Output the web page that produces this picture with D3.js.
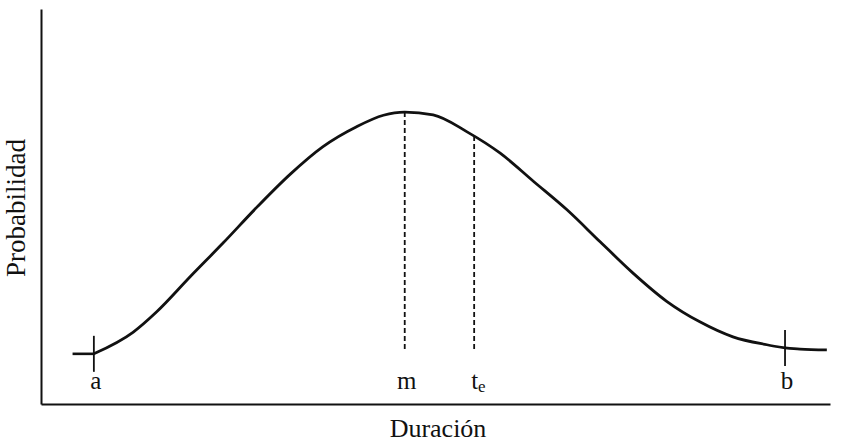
<!DOCTYPE html>
<html>
<head>
<meta charset="utf-8">
<script src="https://cdn.jsdelivr.net/npm/d3@7/dist/d3.min.js"></script>
<style>
  html, body { margin: 0; padding: 0; background: #fff; }
  svg { display: block; }
  text { font-family: "Liberation Serif", "Times New Roman", serif; fill: #111; }
</style>
</head>
<body>
<svg id="chart" width="856" height="445"></svg>
<script>
// Duración (horizontal) vs. probabilidad (vertical), in relative units 0–100
const duracion = [6.7, 11.7, 14.7, 18.9, 23.1, 27.4, 31.6, 35.7, 40.0, 43.4, 46.1,
                  49.7, 54.0, 58.2, 62.4, 66.7, 70.9, 75.0, 79.3, 83.5, 87.7, 92.0, 94.3];
const probabilidad = [12.7, 18.2, 23.4, 32.2, 40.8, 49.9, 58.2, 65.1, 70.2, 73.1, 73.9,
                      73.2, 68.9, 63.5, 56.4, 49.1, 41.0, 33.2, 26.0, 20.8, 17.0, 15.0, 14.2];

// flat tails before a and after b
const colaIzq = { x: [4.0, 6.7], y: [12.7, 12.7] };
const colaDer = { x: [94.3, 96.2, 99.6], y: [14.2, 13.9, 13.7] };

// marked durations
const puntos = ["a", "m", "te", "b"];
const valoresPunto = [6.7, 46.1, 54.9, 94.3];
const baseDiscontinua = 13.2;   // lower end of the dashed guides

const ejeX = "Duración";
const ejeY = "Probabilidad";

const svg = d3.select("#chart");
const x = d3.scaleLinear().domain([0, 100]).range([41, 830]);
const y = d3.scaleLinear().domain([0, 100]).range([404, 9]);

// axes: bare lines, no ticks
svg.append("g")
  .attr("transform", `translate(${x(0)},0)`)
  .call(d3.axisLeft(y).tickValues([]).tickSizeOuter(0))
  .call(g => g.select(".domain").attr("stroke", "#111").attr("stroke-width", 2));
svg.append("g")
  .attr("transform", `translate(0,${y(0)})`)
  .call(d3.axisBottom(x).tickValues([]).tickSizeOuter(0))
  .call(g => g.select(".domain").attr("stroke", "#111").attr("stroke-width", 2));

// main curve
const pts = duracion.map((d, i) => [d, probabilidad[i]]);
const linea = d3.line().x(d => x(d[0])).y(d => y(d[1])).curve(d3.curveMonotoneX);
const curva = svg.append("path")
  .datum(pts)
  .attr("d", linea)
  .attr("fill", "none")
  .attr("stroke", "#111")
  .attr("stroke-width", 2.8)
  .attr("stroke-linecap", "round");

// tails
[colaIzq, colaDer].forEach(c => {
  svg.append("path")
    .datum(c.x.map((d, i) => [d, c.y[i]]))
    .attr("d", d3.line().x(d => x(d[0])).y(d => y(d[1])).curve(d3.curveMonotoneX))
    .attr("fill", "none")
    .attr("stroke", "#111")
    .attr("stroke-width", 2.6);
});

// y of the drawn curve at a given duration
const nodo = curva.node();
const largo = nodo.getTotalLength();
function yEnCurva(v) {
  const px = x(v);
  let lo = 0, hi = largo;
  for (let k = 0; k < 40; k++) {
    const mid = (lo + hi) / 2;
    if (nodo.getPointAtLength(mid).x < px) lo = mid; else hi = mid;
  }
  return nodo.getPointAtLength((lo + hi) / 2).y;
}

// dashed guides at m and te
["m", "te"].forEach(p => {
  const v = valoresPunto[puntos.indexOf(p)];
  svg.append("line")
    .attr("x1", x(v)).attr("x2", x(v))
    .attr("y1", yEnCurva(v)).attr("y2", y(baseDiscontinua))
    .attr("stroke", "#111")
    .attr("stroke-width", 1.8)
    .attr("stroke-dasharray", "5,3");
});

// small vertical marks at a and b
["a", "b"].forEach(p => {
  const v = valoresPunto[puntos.indexOf(p)];
  const cy = yEnCurva(v);
  svg.append("line")
    .attr("x1", x(v)).attr("x2", x(v))
    .attr("y1", cy - 18).attr("y2", cy + 18)
    .attr("stroke", "#111")
    .attr("stroke-width", 1.8);
});

// point labels
const baseEtiqueta = y(0) - 15;
puntos.forEach((p, i) => {
  const v = valoresPunto[i];
  if (p === "te") {
    const t = svg.append("text")
      .attr("x", x(v) - 3)
      .attr("y", baseEtiqueta)
      .attr("font-size", 25)
      .attr("text-anchor", "start");
    t.append("tspan").text("t");
    t.append("tspan").text("e").attr("font-size", 17).attr("dy", 3);
  } else {
    svg.append("text")
      .attr("x", x(v) + 2)
      .attr("y", baseEtiqueta)
      .attr("font-size", 25)
      .attr("text-anchor", "middle")
      .text(p);
  }
});

// axis titles
svg.append("text")
  .attr("x", 438)
  .attr("y", 437)
  .attr("font-size", 26)
  .attr("text-anchor", "middle")
  .text(ejeX);
svg.append("text")
  .attr("transform", "translate(25,208) rotate(-90)")
  .attr("font-size", 27)
  .attr("text-anchor", "middle")
  .text(ejeY);
</script>
</body>
</html>
